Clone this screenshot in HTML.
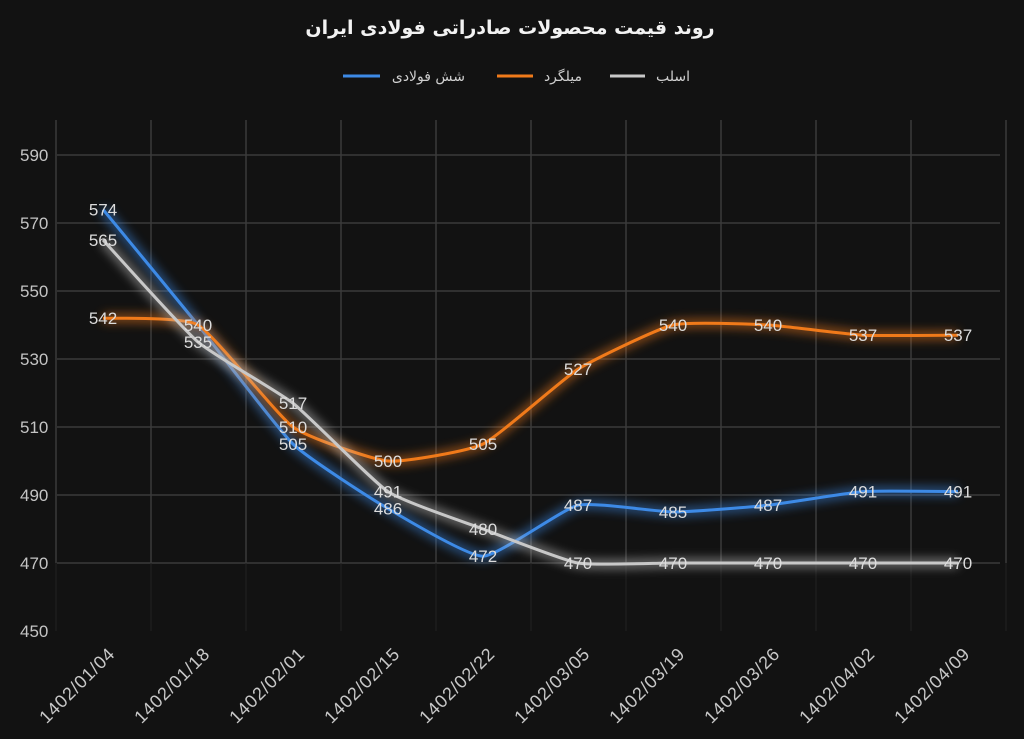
<!DOCTYPE html>
<html><head><meta charset="utf-8"><style>
html,body{margin:0;padding:0;background:#121212;}
svg{display:block;font-family:"Liberation Sans","DejaVu Sans",sans-serif;}
</style></head><body>
<svg id="c" width="1024" height="739" viewBox="0 0 1024 739" xmlns="http://www.w3.org/2000/svg">
<defs>
<filter id="glow" x="-20%" y="-50%" width="140%" height="200%"><feGaussianBlur stdDeviation="5"/></filter>
</defs>
<rect width="1024" height="739" fill="#121212"/>
<text x="510" y="34" fill="#f2f2f2" font-size="19" font-weight="bold" text-anchor="middle" font-family="'DejaVu Sans',sans-serif">روند قیمت محصولات صادراتی فولادی ایران</text>
<g font-size="14" fill="#cfcfcf" font-family="'DejaVu Sans',sans-serif">
<line x1="343" y1="76" x2="380" y2="76" stroke="#3d8ae6" stroke-width="3"/>
<text x="465" y="81" text-anchor="end">شش فولادی</text>
<line x1="497" y1="76" x2="533" y2="76" stroke="#f07a1a" stroke-width="3"/>
<text x="582" y="81" text-anchor="end">میلگرد</text>
<line x1="610" y1="76" x2="645" y2="76" stroke="#c8c8c8" stroke-width="3"/>
<text x="690" y="81" text-anchor="end">اسلب</text>
</g>
<g id="grid"></g>
<g id="series"></g>
<g id="labels"></g>
</svg>
<script>
var NS="http://www.w3.org/2000/svg";
function el(p,t,a,txt){var e=document.createElementNS(NS,t);for(var k in a)e.setAttribute(k,a[k]);if(txt!=null)e.textContent=txt;p.appendChild(e);return e;}
function Y(v){return 155+(590-v)*3.4;}
function X(i){return 103+i*95;}
var g=document.getElementById('grid');
for(var v=450;v<=590;v+=20){
 if(v>450) el(g,'line',{x1:57,x2:1000,y1:Y(v),y2:Y(v),stroke:'#3a3a3a','stroke-width':1.5});
 el(g,'text',{x:20,y:Y(v)+6,fill:'#c4c4c4','font-size':17},v);
}
for(var i=0;i<=10;i++){el(g,'line',{x1:56+i*95,x2:56+i*95,y1:120,y2:Y(470),stroke:'#3a3a3a','stroke-width':1.5});
 el(g,'line',{x1:56+i*95,x2:56+i*95,y1:Y(470),y2:631,stroke:'#222','stroke-width':1});}
var dates=["1402/01/04","1402/01/18","1402/02/01","1402/02/15","1402/02/22","1402/03/05","1402/03/19","1402/03/26","1402/04/02","1402/04/09"];
dates.forEach(function(d,i){el(g,'text',{x:X(i)+13,y:655,fill:'#c8c8c8','font-size':18,'letter-spacing':0.8,'text-anchor':'end',transform:'rotate(-45 '+(X(i)+13)+' 655)'},d);});
var S=[
 {c:'#3d8ae6',d:[574,540,505,486,472,487,485,487,491,491]},
 {c:'#f07a1a',d:[542,540,510,500,505,527,540,540,537,537]},
 {c:'#c8c8c8',d:[565,535,517,491,480,470,470,470,470,470]}
];
function path(d){var pts=d.map(function(v,i){return [X(i),Y(v)];});var s='M'+pts[0][0]+','+pts[0][1];
 for(var i=0;i<pts.length-1;i++){var p0=pts[i-1]||pts[i],p1=pts[i],p2=pts[i+1],p3=pts[i+2]||p2,t=0.08;
 var c1=[p1[0]+(p2[0]-p0[0])*t,p1[1]+(p2[1]-p0[1])*t],c2=[p2[0]-(p3[0]-p1[0])*t,p2[1]-(p3[1]-p1[1])*t];
 s+=' C'+c1+' '+c2+' '+p2;}return s;}
var sg=document.getElementById('series');
S.forEach(function(s){var p=path(s.d);
 el(sg,'path',{d:p,fill:'none',stroke:s.c,'stroke-width':9,opacity:0.55,filter:'url(#glow)'});
 el(sg,'path',{d:p,fill:'none',stroke:s.c,'stroke-width':3});});
var lb=document.getElementById('labels');
S.forEach(function(s,k){s.d.forEach(function(v,i){ if(k==0&&i==1)return;
 el(lb,'text',{x:X(i),y:Y(v)+6,fill:'#dcdcdc','font-size':17,'text-anchor':'middle'},v);});});
</script>
</body></html>
